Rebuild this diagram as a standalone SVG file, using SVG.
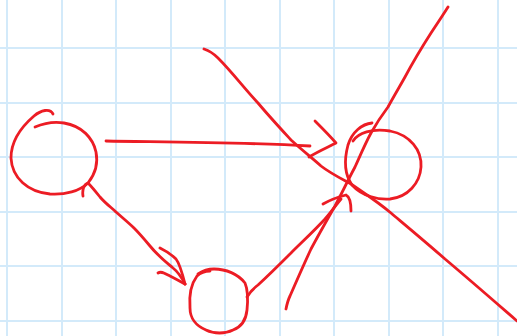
<svg xmlns="http://www.w3.org/2000/svg" width="517" height="336" viewBox="0 0 517 336">
<style>
.grid line{stroke:#d3eafa;stroke-width:2}
.ink{fill:none;stroke:#ec1c24;stroke-width:2.8;stroke-linecap:round;stroke-linejoin:round}
</style>
<rect width="517" height="336" fill="#ffffff"/>
<g class="grid">
<line x1="7" y1="0" x2="7" y2="336"/><line x1="62" y1="0" x2="62" y2="336"/><line x1="116" y1="0" x2="116" y2="336"/><line x1="171" y1="0" x2="171" y2="336"/><line x1="225" y1="0" x2="225" y2="336"/><line x1="280" y1="0" x2="280" y2="336"/><line x1="334" y1="0" x2="334" y2="336"/><line x1="389" y1="0" x2="389" y2="336"/><line x1="443" y1="0" x2="443" y2="336"/><line x1="498" y1="0" x2="498" y2="336"/>
<line x1="0" y1="48" x2="517" y2="48"/><line x1="0" y1="103" x2="517" y2="103"/><line x1="0" y1="157" x2="517" y2="157"/><line x1="0" y1="212" x2="517" y2="212"/><line x1="0" y1="266" x2="517" y2="266"/><line x1="0" y1="321" x2="517" y2="321"/>
</g>
<g id="node-left">
<path class="ink" d="M53,114 C50,108 41,110 34,116 C20,128 11,142 11,158 C12,178 28,192 50,194 C65,195 80,191 88,183 C96,173 98,162 96,152 C93,138 82,126 64,123 C52,121 42,124 35,127"/>
</g>
<g id="node-right">
<path class="ink" d="M372,123 C362,124 352,132 348,145 C344,160 345,175 352,185 C362,196 378,200 390,199 C408,197 420,183 421,167 C422,150 410,135 390,131 C372,128 358,133 353,141"/>
</g>
<g id="node-bottom">
<path class="ink" d="M198,274 C204,270 210,269 214,269 C226,269 238,274 245,283 C248,290 248,300 247,310 C246,320 241,327 233,330 C225,334 214,334 206,330 C196,326 190,318 190,308 C189,296 191,284 197,276 C201,272 206,271 210,271"/>
</g>
<g id="connectors">
<path class="ink" d="M106,141 C160,142 240,142 310,146"/>
<path class="ink" d="M315,121 C322,128 330,136 336,143 C326,148 317,152 309,157"/>
<path class="ink" d="M83,196 C82,190 84,184 88,183 C92,187 96,192 100,197 C106,204 112,208 116,212 C124,219 130,224 134,228 C140,234 145,240 150,246 C158,256 166,262 173,268 C178,272 182,278 185,284"/>
<path class="ink" d="M160,248 C166,251 172,255 176,259 C180,264 182,272 185,284"/>
<path class="ink" d="M158,273 C161,271 164,273 170,276 C176,279 181,282 185,284"/>
<path class="ink" d="M247,297 C250,292 254,288 258,285 C270,274 280,264 291,253 C302,242 314,231 325,219 C332,211 336,205 341,199"/>
<path class="ink" d="M323,204 C330,200 338,197 346,195 C350,197 351,204 351,211"/>
<path class="ink" d="M204,49 C210,51 214,54 218,58 C232,72 244,88 258,103 C268,115 280,128 291,140 C302,150 312,158 321,166 C330,173 340,178 351,184 C364,193 378,202 391,213 C410,229 428,244 445,259 C470,280 494,301 517,321"/>
<path class="ink" d="M286,309 C287,304 288,300 290,296 C297,280 304,264 311,249 C319,234 327,220 335,206 C342,193 348,180 355,167 C360,156 365,144 371,133 C376,124 382,115 388,107 C394,96 400,86 405,77 C413,62 422,47 431,33 C437,24 443,15 448,7"/>
</g>
</svg>
